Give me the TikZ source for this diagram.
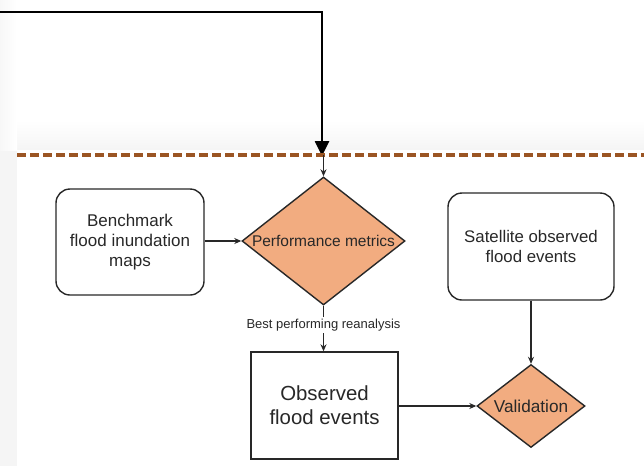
\documentclass[tikz,border=0pt]{standalone}
\usepackage{fontspec}
\setmainfont{Liberation Sans}
\usetikzlibrary{arrows.meta,shapes.geometric}
\definecolor{salmon}{RGB}{242,172,128}
\definecolor{rust}{RGB}{155,85,35}
\definecolor{ink}{RGB}{40,40,40}
\tikzset{
  box/.style={draw=ink, line width=1.4pt, fill=white, text=ink, align=center},
  roundbox/.style={box, rounded corners=14pt},
  decision/.style={diamond, draw=ink, line width=1.4pt, fill=salmon, text=ink, inner sep=0pt, aspect=1.27},
  flow/.style={draw=ink, line width=1.2pt, -{Stealth[length=7pt,width=6pt]}},
}
\begin{document}
\begin{tikzpicture}[x=1pt,y=-1pt]
\useasboundingbox (0,0) rectangle (644,466);
% backdrop: faint grey band with a white panel below the divider
\fill[white] (0,0) rectangle (644,466);
\shade[top color=white, bottom color=black!4] (0,120) rectangle (644,150);
\fill[black!4] (0,150) rectangle (17,466);
\shade[left color=black!3, right color=white] (0,0) rectangle (17,150);
\fill[white] (17,150) rectangle (644,466);

% feedback line entering from the left
\coordinate (in0) at (0,12);
\coordinate (in1) at (322,12);
\coordinate (dashhit) at (322,155);
\draw[black, line width=2.6pt, -{Triangle[length=15pt,width=14pt]}] (in0) -- (in1) -- ([yshift=-1pt]dashhit);

% dashed divider
\coordinate (dl) at (17,155);
\coordinate (dr) at (644,155);
\draw[rust, line width=3.2pt, dash pattern=on 9pt off 4pt] (dl) -- (dr);

% nodes
\node[decision, minimum width=163pt, minimum height=128pt, font=\fontsize{15.5}{18}\selectfont] (perf) at (323.5,241) {Performance metrics};
\node[roundbox, minimum width=148pt, minimum height=106pt, font=\fontsize{17}{20}\selectfont] (bench) at (130,242) {Benchmark\\flood inundation\\maps};
\node[roundbox, minimum width=166pt, minimum height=107pt, font=\fontsize{16.8}{19.5}\selectfont] (sat) at (531,246.5) {Satellite observed\\flood events};
\node[box, minimum width=147pt, minimum height=107pt, font=\fontsize{20.4}{24}\selectfont] (obs) at (324.5,405.5) {Observed\\flood events};
\node[decision, minimum width=108pt, minimum height=83pt, font=\fontsize{17.2}{20}\selectfont] (val) at (531,406) {Validation};

% connectors
\draw[flow] (dashhit -| perf.north) -- (perf.north);
\draw[flow] (bench.east |- perf.west) -- (perf.west);
\draw[flow] (perf.south) -- node[fill=white, text=ink, font=\fontsize{13}{15}\selectfont, inner sep=2pt, pos=0.43] {Best performing reanalysis} (obs.north -| perf.south);
\draw[flow] (sat.south) -- (val.north);
\draw[flow] (obs.east |- val.west) -- (val.west);
\end{tikzpicture}
\end{document}
